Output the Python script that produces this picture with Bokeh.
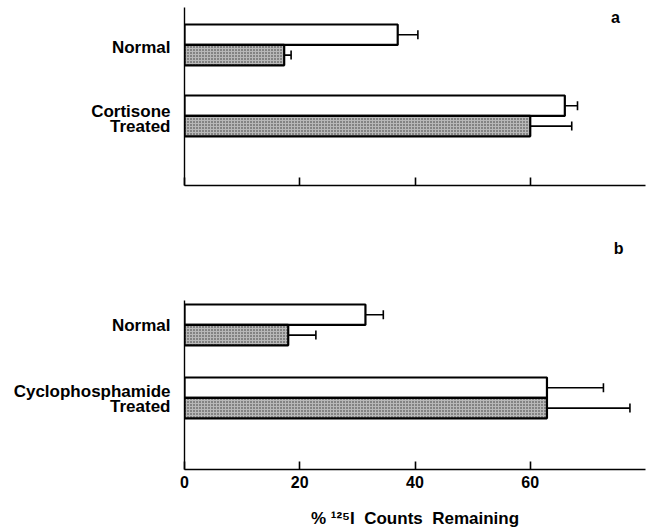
from bokeh.plotting import figure
from bokeh.layouts import column
from bokeh.models import Range1d, FixedTicker, Whisker, TeeHead, ColumnDataSource, Label
from bokeh.embed import file_html
from bokeh.resources import INLINE

# ---- data ----
groups_a = [["Normal"], ["Cortisone", "Treated"]]
open_a = [37.0, 66.0]
open_a_err = [3.5, 2.2]
shaded_a = [17.3, 60.0]
shaded_a_err = [1.2, 7.2]

groups_b = [["Normal"], ["Cyclophosphamide", "Treated"]]
open_b = [31.4, 62.9]
open_b_err = [3.1, 9.8]
shaded_b = [18.0, 62.9]
shaded_b_err = [4.8, 14.4]

x_ticks = [0, 20, 40, 60]
panel_letters = ["a", "b"]
NB = "\u00a0"
axis_title = "%" + NB + "\u00b9\u00b2\u2075I" + NB * 2 + "Counts" + NB * 2 + "Remaining"

FONT = "Liberation Sans"


def make_panel(groups, centers, label_shift, opn, opn_err, sh, sh_err, yend, height,
               border_top, border_bottom, border_left, show_labels):
    p = figure(width=647, height=height, output_backend="svg", toolbar_location=None,
               x_range=Range1d(0, 80), y_range=Range1d(0, yend),
               min_border_left=border_left, min_border_right=2,
               min_border_top=border_top, min_border_bottom=border_bottom,
               outline_line_color=None, background_fill_color="white",
               border_fill_color="white")
    p.xgrid.visible = False
    p.ygrid.visible = False

    half = 0.51
    y_open = [c + half for c in centers]
    y_sh = [c - half for c in centers]
    src_o = ColumnDataSource(dict(y=y_open, v=opn, hi=[a + b for a, b in zip(opn, opn_err)]))
    src_s = ColumnDataSource(dict(y=y_sh, v=sh, hi=[a + b for a, b in zip(sh, sh_err)]))

    p.hbar(y="y", left=0, right="v", height=1.02, source=src_o,
           fill_color="white", line_color="black", line_width=2.2)
    p.hbar(y="y", left=0, right="v", height=1.02, source=src_s,
           fill_color="#b8b8b8", line_color="black", line_width=2.2,
           hatch_pattern="dot", hatch_color="#333333", hatch_scale=3, hatch_weight=1)

    for src in (src_o, src_s):
        p.add_layout(Whisker(source=src, base="y", lower="v", upper="hi", dimension="width",
                             lower_head=None,
                             upper_head=TeeHead(size=9, line_width=1.6, line_color="black"),
                             line_width=1.6, line_color="black"))

    xa = p.xaxis[0]
    xa.ticker = FixedTicker(ticks=x_ticks)
    xa.major_tick_in = 8
    xa.major_tick_out = 0
    xa.minor_tick_line_color = None
    xa.axis_line_width = 1.6
    xa.major_tick_line_width = 1.6
    xa.axis_line_color = "black"
    xa.major_tick_line_color = "black"
    xa.major_label_text_font = FONT
    xa.major_label_text_font_style = "bold"
    xa.major_label_text_color = "black"
    xa.major_label_standoff = 6
    if not show_labels:
        xa.major_label_text_font_size = "0px"
        xa.major_label_text_color = None
        xa.major_label_standoff = 0
    else:
        xa.major_label_text_font_size = "16px"
        xa.axis_label = axis_title
        xa.axis_label_text_font = FONT
        xa.axis_label_text_font_style = "bold"
        xa.axis_label_text_font_size = "17px"
        xa.axis_label_text_color = "black"
        xa.axis_label_standoff = 18

    # category labels, one tick per text line, right aligned against the axis
    ticks, overrides = [], {}
    step = 0.375
    for c, lines in zip(centers, groups):
        n = len(lines)
        for i, line in enumerate(lines):
            t = round(c + label_shift + (n - 1) * step - 2 * step * i, 4)
            ticks.append(t)
            overrides[t] = line

    ya = p.yaxis[0]
    ya.ticker = FixedTicker(ticks=ticks)
    ya.major_label_overrides = overrides
    ya.major_tick_line_color = None
    ya.minor_tick_line_color = None
    ya.axis_line_width = 1.4
    ya.axis_line_color = "black"
    ya.major_label_text_font = FONT
    ya.major_label_text_font_style = "bold"
    ya.major_label_text_font_size = "17px"
    ya.major_label_text_color = "black"
    ya.major_label_standoff = 8
    return p


pa = make_panel(groups_a, [7.03, 3.48], -0.15, open_a, open_a_err, shaded_a, shaded_a_err,
                8.9, 190, 7, 5, 184, False)
pa.add_layout(Label(x=74.8, y=8.4, text=panel_letters[0], text_font=FONT,
                    text_font_style="bold", text_font_size="16px",
                    text_align="center", text_baseline="middle", text_color="black"))

pb = make_panel(groups_b, [7.23, 3.58], -0.05, open_b, open_b_err, shaded_b, shaded_b_err,
                8.45, 341, 110, 62, 181, True)
pb.title.text = panel_letters[1]
pb.title.align = "right"
pb.title.offset = 22
pb.title.standoff = 88
pb.title.text_font = FONT
pb.title.text_font_style = "bold"
pb.title.text_font_size = "16px"
pb.title.text_color = "black"

layout = column(pa, pb, spacing=0)
open("out.html", "w").write(file_html(layout, INLINE))
